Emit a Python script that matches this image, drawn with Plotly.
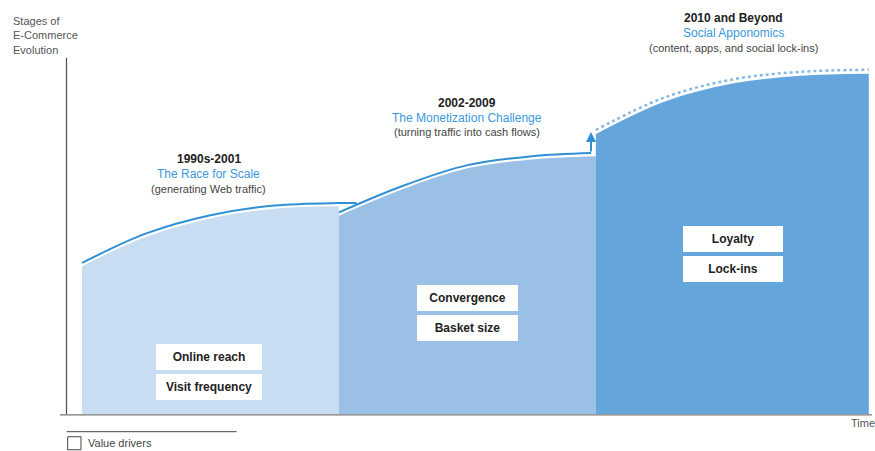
import plotly.graph_objects as go

# Stage curves: time position and value level of each stage's upper edge
stage1_t = [2, 10, 18, 26, 34]
stage1_v = [36.6, 43.9, 48.4, 50.8, 51.4]
stage2_t = [34, 42, 50, 58, 66]
stage2_v = [49.1, 55.7, 60.8, 63.0, 63.8]
stage3_t = [66, 74.5, 83, 91.5, 100]
stage3_v = [69.3, 77.3, 81.8, 83.7, 84.2]

years = ["1990s-2001", "2002-2009", "2010 and Beyond"]
themes = ["The Race for Scale", "The Monetization Challenge", "Social Apponomics"]
notes = ["(generating Web traffic)", "(turning traffic into cash flows)",
         "(content, apps, and social lock-ins)"]
drivers = [["Online reach", "Visit frequency"], ["Convergence", "Basket size"],
           ["Loyalty", "Lock-ins"]]

FONT = "Liberation Sans, Arial, sans-serif"
FILLS = ["#c8ddf1", "#9ac0e6", "#64a6db"]
LINE = "#2f90d5"
THEME_BLUE = "#3a98dc"
LIFT = 0.8  # gap between stage outline and its fill

fig = go.Figure()

stages = [(stage1_t, stage1_v), (stage2_t, stage2_v), (stage3_t, stage3_v)]
for (t, v), col in zip(stages, FILLS):
    fig.add_trace(go.Scatter(x=t, y=v, mode="lines", fill="tozeroy",
                             fillcolor=col, line=dict(width=0, shape="spline"),
                             hoverinfo="skip"))

# Outline of stage 1, running on until it meets stage 2's outline
fig.add_trace(go.Scatter(x=stage1_t + [36.2], y=[v + LIFT for v in stage1_v] + [stage1_v[-1] + LIFT],
                         mode="lines", line=dict(color=LINE, width=2, shape="spline"),
                         hoverinfo="skip"))
# Outline of stage 2, ending just before the step up
s2_end = stage2_t[-1] - 0.6
fig.add_trace(go.Scatter(x=stage2_t[:-1] + [s2_end],
                         y=[v + LIFT for v in stage2_v],
                         mode="lines", line=dict(color=LINE, width=2, shape="spline"),
                         hoverinfo="skip"))
# Dotted outline of stage 3
fig.add_trace(go.Scatter(x=stage3_t, y=[v + 1.0 for v in stage3_v], mode="lines",
                         line=dict(color="#86b9e5", width=2.5, dash="dot", shape="spline"),
                         hoverinfo="skip"))

annotations = []
# Step-up arrow between stage 2 and stage 3
annotations.append(dict(x=s2_end, y=stage3_v[0] + 0.5, ax=s2_end, ay=stage2_v[-1] + LIFT,
                        xref="x", yref="y", axref="x", ayref="y", text="",
                        showarrow=True, arrowhead=2, arrowsize=1, arrowwidth=2,
                        arrowcolor=LINE))

centers = [17.8, 50.0, 83.1]
header_y = [63.1, 77.0, 98.0]
box_y = [14.1, 28.6, 43.2]
box_w = [104, 99, 98]
step = 3.66
for i in range(3):
    annotations.append(dict(x=centers[i], y=header_y[i], text="<b>" + years[i] + "</b>",
                            showarrow=False, font=dict(family=FONT, size=12, color="#222")))
    annotations.append(dict(x=centers[i], y=header_y[i] - step, text=themes[i],
                            showarrow=False, font=dict(family=FONT, size=12, color=THEME_BLUE)))
    annotations.append(dict(x=centers[i], y=header_y[i] - 2 * step, text=notes[i],
                            showarrow=False, font=dict(family=FONT, size=11, color="#444")))
    for j, d in enumerate(drivers[i]):
        annotations.append(dict(x=centers[i], y=box_y[i] - j * 7.3, text="<b>" + d + "</b>",
                                showarrow=False, bgcolor="white", width=box_w[i], height=24,
                                borderpad=1, borderwidth=0,
                                font=dict(family=FONT, size=12, color="#222")))

annotations.append(dict(x=-0.0685, y=0.938, xref="paper", yref="paper", xanchor="left",
                        yanchor="middle", align="left", showarrow=False,
                        text="Stages of<br>E-Commerce<br>Evolution",
                        font=dict(family=FONT, size=11, color="#555")))
annotations.append(dict(x=(849 - 66) / 806, y=(414 - 423) / 404, xref="paper", yref="paper",
                        xanchor="left", yanchor="middle", showarrow=False, text="Time",
                        font=dict(family=FONT, size=11, color="#555")))
annotations.append(dict(x=0.0248, y=-0.0718, xref="paper", yref="paper", xanchor="left",
                        yanchor="middle", showarrow=False, text="Value drivers",
                        font=dict(family=FONT, size=11, color="#444")))

shapes = [
    # axes
    dict(type="line", xref="paper", yref="paper", x0=0.0006, x1=0.0006, y0=0, y1=0.881,
         line=dict(color="#555", width=1.3)),
    dict(type="line", xref="paper", yref="paper", x0=-0.0074, x1=1.0, y0=-0.002, y1=-0.002,
         line=dict(color="#777", width=1.3)),
    # legend rule and swatch
    dict(type="line", xref="paper", yref="paper", x0=0.0008, x1=0.2118, y0=-0.0438, y1=-0.0438,
         line=dict(color="#444", width=1)),
    dict(type="rect", xref="paper", yref="paper", x0=0.0021, x1=0.0186, y0=-0.0563, y1=-0.0885,
         line=dict(color="#444", width=1), fillcolor="white"),
]

fig.update_layout(
    width=875, height=451,
    margin=dict(l=66, r=3, t=10, b=37),
    paper_bgcolor="white", plot_bgcolor="white",
    showlegend=False,
    xaxis=dict(range=[0, 100.4], visible=False, fixedrange=True),
    yaxis=dict(range=[0, 100], visible=False, fixedrange=True),
    annotations=annotations,
    shapes=shapes,
)

fig.write_html("out.html")
